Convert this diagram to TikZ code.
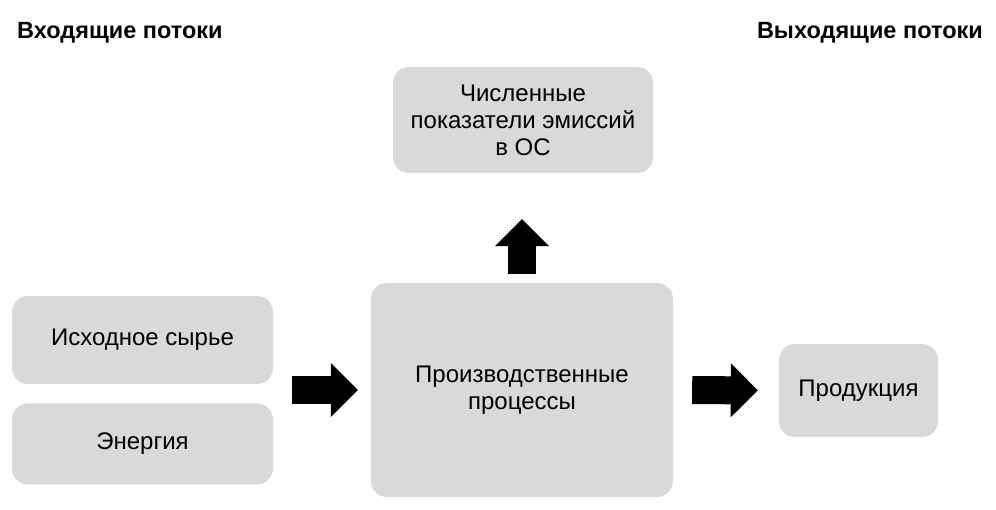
\documentclass[tikz,border=0pt]{standalone}
\usepackage{fontspec}
\setmainfont{Liberation Sans}
\usetikzlibrary{arrows.meta}
\usetikzlibrary{positioning}
\definecolor{boxgray}{HTML}{D9D9D9}
\tikzset{
flowbox/.style={fill=boxgray, rounded corners=16pt, align=center, inner sep=0pt,
    font=\fontsize{24}{27}\selectfont},
flowtitle/.style={inner sep=0pt, font=\bfseries\fontsize{23.5}{27}\selectfont},
blockarrow/.style={line width=28pt,
    -{Triangle[length=27pt,width=54pt,line width=0pt]}},
}

\begin{document}
\begin{tikzpicture}[x=1pt,y=-1pt]
    \useasboundingbox (0,0) rectangle (996,509);
    \node[flowtitle, anchor=base west] (intitle) at (17,38) {Входящие потоки};
    \node[flowtitle, anchor=base east] (outtitle) at (983,38) {Выходящие потоки};
    \node[flowbox, minimum width=261pt, minimum height=88pt] (raw) at (142.5,340) {Исходное сырье};
    \node[flowbox, minimum width=261pt, minimum height=81pt, below=19pt of raw] (energy) {Энергия};
    \node[flowbox, minimum width=302pt, minimum height=214pt] (proc) at (522,390) {Производственные\\процессы};
    \node[flowbox, minimum width=260pt, minimum height=106pt] (emis) at (523,120) {Численные\\показатели эмиссий\\в ОС};
    \node[flowbox, minimum width=159pt, minimum height=93pt] (prod) at (858.5,390.5) {Продукция};
    \draw[blockarrow, shorten <=19pt, shorten >=13pt] (raw.east |- proc.west) -- (proc.west);
    \draw[blockarrow, shorten <=9pt, shorten >=46pt] (proc.north) -- (proc.north |- emis.south);
    \draw[blockarrow, shorten <=19pt, shorten >=21pt] (proc.east) -- (prod.west);
\end{tikzpicture}
\end{document}
